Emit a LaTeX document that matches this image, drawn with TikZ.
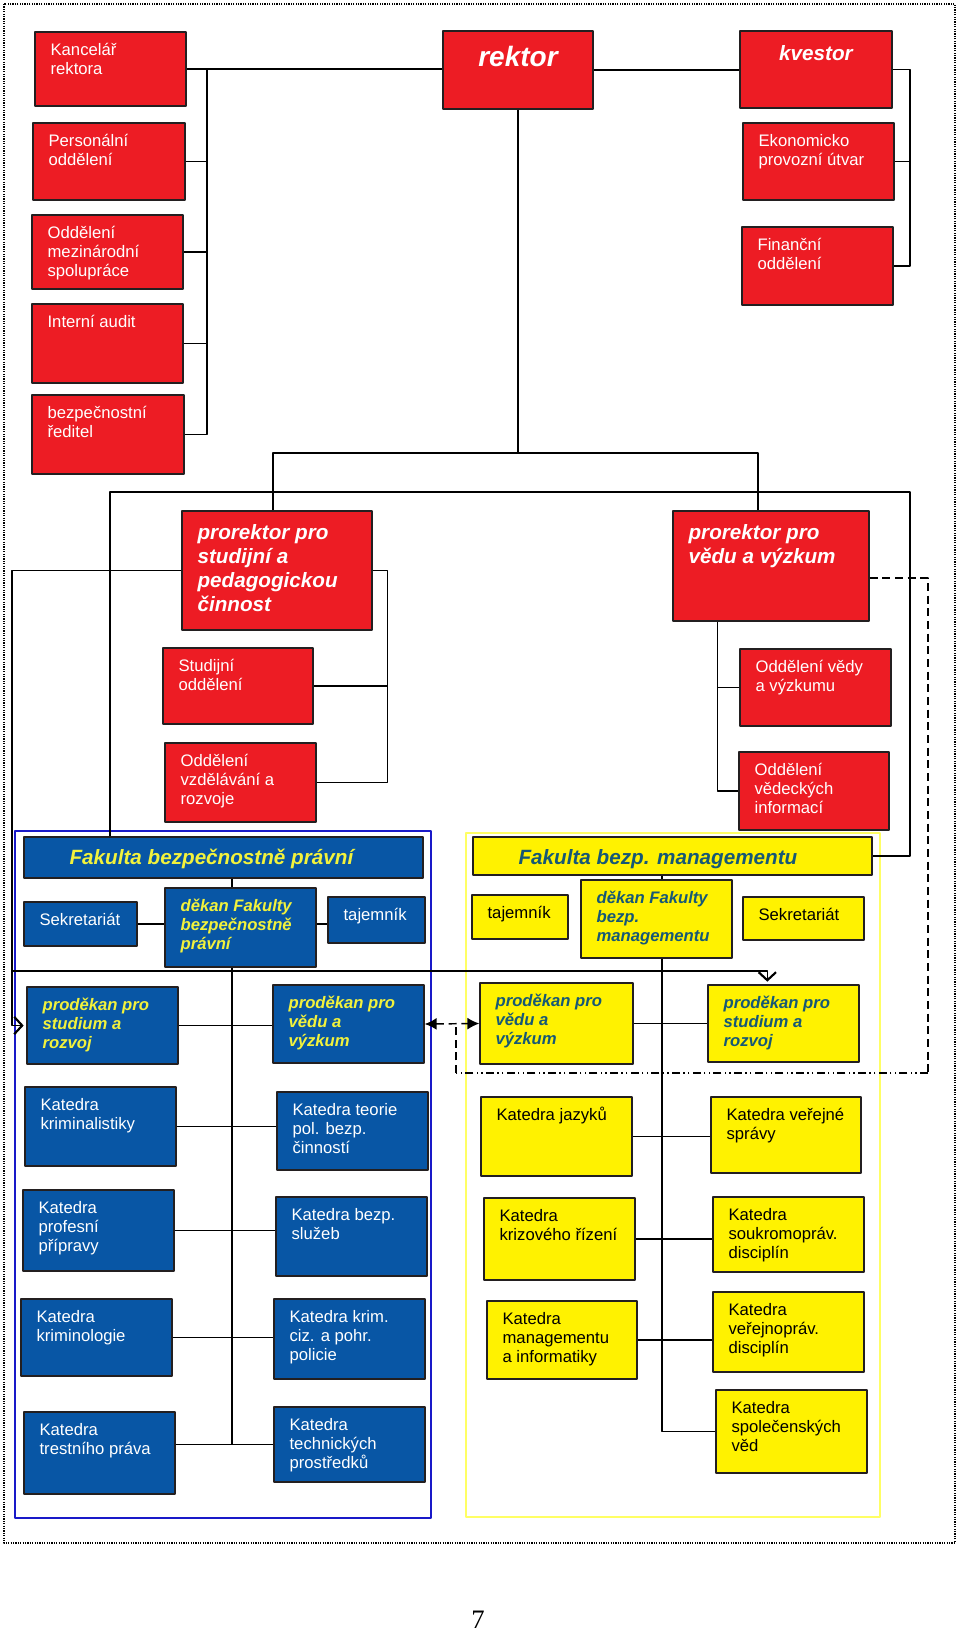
\documentclass[tikz,border=0pt]{standalone}
\usepackage{fontspec}
\setmainfont{Liberation Sans}
\newfontfamily\pagefont{Liberation Serif}
\usetikzlibrary{fit,calc,arrows.meta}
\definecolor{redfill}{RGB}{237,28,36}
\definecolor{bluefill}{RGB}{8,86,165}
\definecolor{yelfill}{RGB}{255,242,0}
\definecolor{headyel}{RGB}{242,242,60}
\definecolor{tealtxt}{RGB}{22,88,118}
\definecolor{boxline}{RGB}{35,31,32}
\definecolor{bframe}{RGB}{25,25,200}
\definecolor{yframe}{RGB}{255,255,100}
\tikzset{
  orgunit/.style={draw=boxline, line width=1pt, inner sep=0pt},
  redunit/.style={orgunit, fill=redfill},
  blueunit/.style={orgunit, fill=bluefill},
  yelunit/.style={orgunit, fill=yelfill},
  txt/.style={anchor=north west, inner sep=0pt, align=left, font=\fontsize{12.5}{14.5}\selectfont},
  wtxt/.style={txt, text=white},
  ktxt/.style={txt, text=black},
  bitxt/.style={txt, font=\bfseries\itshape\fontsize{12.5}{14.5}\selectfont},
  ybitxt/.style={bitxt, text=headyel},
  tbitxt/.style={bitxt, text=tealtxt},
  prtxt/.style={txt, text=white, font=\bfseries\itshape\fontsize{15.5}{18}\selectfont, yshift=-1.9pt},
  hdtxt/.style={txt, font=\bfseries\itshape\fontsize{15.5}{18}\selectfont, xshift=22.5pt, yshift=-0.8pt},
  link/.style={draw=black, line width=1.1pt},
  dline/.style={draw=black, line width=1.1pt, dash pattern=on 6pt off 3.5pt},
  ddline/.style={draw=black, line width=1.1pt, dash pattern=on 6pt off 2.5pt on 1pt off 2.5pt on 1pt off 2.5pt},
  barb/.style={-{Straight Barb[length=6pt,width=13pt,line width=1.6pt]}, shorten >=2pt},
  bothtips/.style={{Latex[length=9pt,width=9pt]}-{Latex[length=9pt,width=9pt]}}
}
\newcommand{\unitbox}[8]{%
  \node[#2, fit={(#4,#5) (#6,#7)}] (#1) {};
  \node[#3] (#1t) at ($(#1.north west)+(16,10)$) {\strut #8};
}
\begin{document}
\begin{tikzpicture}[x=0.75pt, y=-0.75pt, line join=round]
\useasboundingbox (0,0) rectangle (960,1632);
\draw[line width=0.9pt, dash pattern=on 0.9pt off 0.9pt] (4,4) rectangle (955,1543);
\draw[bframe, line width=1.1pt] (15,831) rectangle (431,1518);
\draw[yframe, line width=1.6pt] (466,833) rectangle (880,1517);

\unitbox{kancelar}{redunit}{wtxt}{35}{32}{186}{106}{Kancelář\\rektora}
\unitbox{personal}{redunit}{wtxt}{33}{123}{185}{200}{Personální\\oddělení}
\unitbox{mezinar}{redunit}{wtxt}{32}{215}{183}{289}{Oddělení\\mezinárodní\\spolupráce}
\unitbox{audit}{redunit}{wtxt}{32}{304}{183}{383}{Interní audit}
\unitbox{bezped}{redunit}{wtxt}{32}{395}{184}{474}{bezpečnostní\\ředitel}
\node[redunit, fit={(443,31) (593,109)}] (rektor) {};
\node[text=white, font=\bfseries\itshape\fontsize{21}{25}\selectfont, anchor=base] (rektort) at (518,66) {rektor};
\node[redunit, fit={(740,31) (892,108)}] (kvestor) {};
\node[text=white, font=\bfseries\itshape\fontsize{15.5}{18}\selectfont, anchor=base] (kvestort) at (816,60) {kvestor};
\unitbox{ekonom}{redunit}{wtxt}{743}{123}{894}{200}{Ekonomicko\\provozní útvar}
\unitbox{financni}{redunit}{wtxt}{742}{227}{893}{305}{Finanční\\oddělení}
\unitbox{prs}{redunit}{prtxt}{182}{511}{372}{630}{prorektor pro\\studijní a\\pedagogickou\\činnost}
\unitbox{prv}{redunit}{prtxt}{673}{511}{869}{621}{prorektor pro\\vědu a výzkum}
\unitbox{stud}{redunit}{wtxt}{163}{648}{313}{724}{Studijní\\oddělení}
\unitbox{ovr}{redunit}{wtxt}{165}{743}{316}{822}{Oddělení\\vzdělávání a\\rozvoje}
\unitbox{ovv}{redunit}{wtxt}{740}{649}{891}{726}{Oddělení vědy\\a výzkumu}
\unitbox{ovi}{redunit}{wtxt}{739}{752}{889}{830}{Oddělení\\vědeckých\\informací}

\unitbox{fbp}{blueunit}{hdtxt, text=headyel}{24}{837}{423}{878}{Fakulta bezpečnostně právní}
\unitbox{sekb}{blueunit}{wtxt}{24}{902}{137}{946}{Sekretariát}
\unitbox{dkb}{blueunit}{ybitxt}{165}{888}{316}{967}{děkan Fakulty\\bezpečnostně\\právní}
\unitbox{tjb}{blueunit}{wtxt}{328}{897}{425}{943}{tajemník}
\unitbox{psb}{blueunit}{ybitxt}{27}{987}{178}{1064}{proděkan pro\\studium a\\rozvoj}
\unitbox{pvb}{blueunit}{ybitxt}{273}{985}{424}{1063}{proděkan pro\\vědu a\\výzkum}
\unitbox{k1}{blueunit}{wtxt}{25}{1087}{176}{1166}{Katedra\\kriminalistiky}
\unitbox{k2}{blueunit}{wtxt}{277}{1092}{428}{1170}{Katedra teorie\\pol. bezp.\\činností}
\unitbox{k3}{blueunit}{wtxt}{23}{1190}{174}{1271}{Katedra\\profesní\\přípravy}
\unitbox{k4}{blueunit}{wtxt}{276}{1197}{427}{1276}{Katedra bezp.\\služeb}
\unitbox{k5}{blueunit}{wtxt}{21}{1299}{172}{1376}{Katedra\\kriminologie}
\unitbox{k6}{blueunit}{wtxt}{274}{1299}{425}{1379}{Katedra krim.\\ciz. a pohr.\\policie}
\unitbox{k7}{blueunit}{wtxt}{24}{1412}{175}{1494}{Katedra\\trestního práva}
\unitbox{k8}{blueunit}{wtxt}{274}{1407}{425}{1482}{Katedra\\technických\\prostředků}

\unitbox{fbm}{yelunit}{hdtxt, text=tealtxt}{473}{837}{872}{875}{Fakulta bezp. managementu}
\unitbox{tjy}{yelunit}{ktxt}{472}{895}{568}{939}{tajemník}
\unitbox{dky}{yelunit}{tbitxt}{581}{880}{732}{958}{děkan Fakulty\\bezp.\\managementu}
\unitbox{sky}{yelunit}{ktxt}{743}{897}{864}{940}{Sekretariát}
\unitbox{pvy}{yelunit}{tbitxt}{480}{983}{633}{1064}{proděkan pro\\vědu a\\výzkum}
\unitbox{psy}{yelunit}{tbitxt}{708}{985}{859}{1062}{proděkan pro\\studium a\\rozvoj}
\unitbox{y1}{yelunit}{ktxt}{481}{1097}{632}{1176}{Katedra jazyků}
\unitbox{y2}{yelunit}{ktxt}{711}{1097}{861}{1173}{Katedra veřejné\\správy}
\unitbox{y3}{yelunit}{ktxt}{484}{1198}{635}{1280}{Katedra\\krizového řízení}
\unitbox{y4}{yelunit}{ktxt}{713}{1197}{864}{1272}{Katedra\\soukromopráv.\\disciplín}
\unitbox{y5}{yelunit}{ktxt}{487}{1301}{637}{1379}{Katedra\\managementu\\a informatiky}
\unitbox{y6}{yelunit}{ktxt}{713}{1292}{864}{1372}{Katedra\\veřejnopráv.\\disciplín}
\unitbox{y7}{yelunit}{ktxt}{716}{1390}{867}{1473}{Katedra\\společenských\\věd}

\coordinate (lbus) at (207,0);
\coordinate (rbus) at (910,0);
\coordinate (rbus1) at (0,453);
\coordinate (b2l) at (110,492);
\coordinate (b2r) at (910,492);
\coordinate (lv) at (12,0);
\coordinate (mid) at (12,971);
\coordinate (p1) at ($(prs.north)+(-4,0)$);
\coordinate (p2) at ($(prv.north)+(-13,0)$);
\coordinate (sbus) at ($(prs.east)+(15,0)$);
\coordinate (vbus) at ($(prv.south west)+(45,0)$);
\coordinate (d0) at ($(prv.east)+(0,12)$);
\coordinate (dd) at (928,0);
\coordinate (db) at (0,1073);
\coordinate (dl) at (456,0);
\coordinate (aim) at ($(psy.north west)+(60,0)$);
\coordinate (bsp) at (232,0);
\coordinate (ysp) at (662,0);

\draw[link] (kancelar.east) -- (kancelar.east -| rektor.west);
\draw[link] (rektor.east) -- (rektor.east -| kvestor.west);
\draw[link] (kancelar.east -| lbus) |- (bezped.east);
\foreach \n in {personal,mezinar,audit}
  \draw[link] (\n.east) -- (\n.east -| lbus);
\draw[link] (kvestor.east) -| (rbus |- financni.east) -- (financni.east);
\draw[link] (ekonom.east) -- (ekonom.east -| rbus);
\draw[link] (rektor.south) -- (rektor.south |- rbus1);
\draw[link] (p1) -- (p1 |- rbus1) -| (p2);
\draw[link] (fbp.north -| b2l) -- (b2l) -- (b2r) |- (fbm.east);
\draw[link, barb] (prs.west) -- (prs.west -| lv) |- (psb.west);
\draw[link, barb] (mid) -| (aim);
\draw[link] (prs.east) -- (sbus) |- (ovr.east);
\draw[link] (stud.east) -- (stud.east -| sbus);
\draw[link] (vbus) |- (ovi.west);
\draw[link] (ovv.west) -- (ovv.west -| vbus);
\draw[dline] (d0) -- (d0 -| dd) -- (dd |- db);
\draw[ddline] (dd |- db) -- (dl |- db);
\draw[dline] (dl |- db) -- (dl |- pvb.east);
\draw[dline, bothtips] (pvb.east) -- (pvy.west);

\draw[link] (fbp.south -| bsp) -- (dkb.north -| bsp);
\draw[link] (sekb.east) -- (sekb.east -| dkb.west);
\draw[link] (sekb.east -| dkb.east) -- (sekb.east -| tjb.west);
\draw[link] (dkb.south -| bsp) -- (bsp |- k8.west);
\draw[link] (psb.east) -- (psb.east -| pvb.west);
\draw[link] (k1.east) -- (k1.east -| k2.west);
\draw[link] (k3.east) -- (k3.east -| k4.west);
\draw[link] (k5.east) -- (k5.east -| k6.west);
\draw[link] (k8.west -| k7.east) -- (k8.west);

\draw[link] (fbm.south -| ysp) -- (dky.north -| ysp);
\draw[link] (dky.south -| ysp) -- (ysp |- y7.west) -- (y7.west);
\draw[link] (pvy.east) -- (pvy.east -| psy.west);
\draw[link] (y1.east) -- (y1.east -| y2.west);
\draw[link] (y3.east) -- (y3.east -| y4.west);
\draw[link] (y5.east) -- (y5.east -| y6.west);

\node[font=\pagefont\fontsize{20}{24}\selectfont, anchor=base] (pagenum) at (478,1628) {7};
\end{tikzpicture}
\end{document}
